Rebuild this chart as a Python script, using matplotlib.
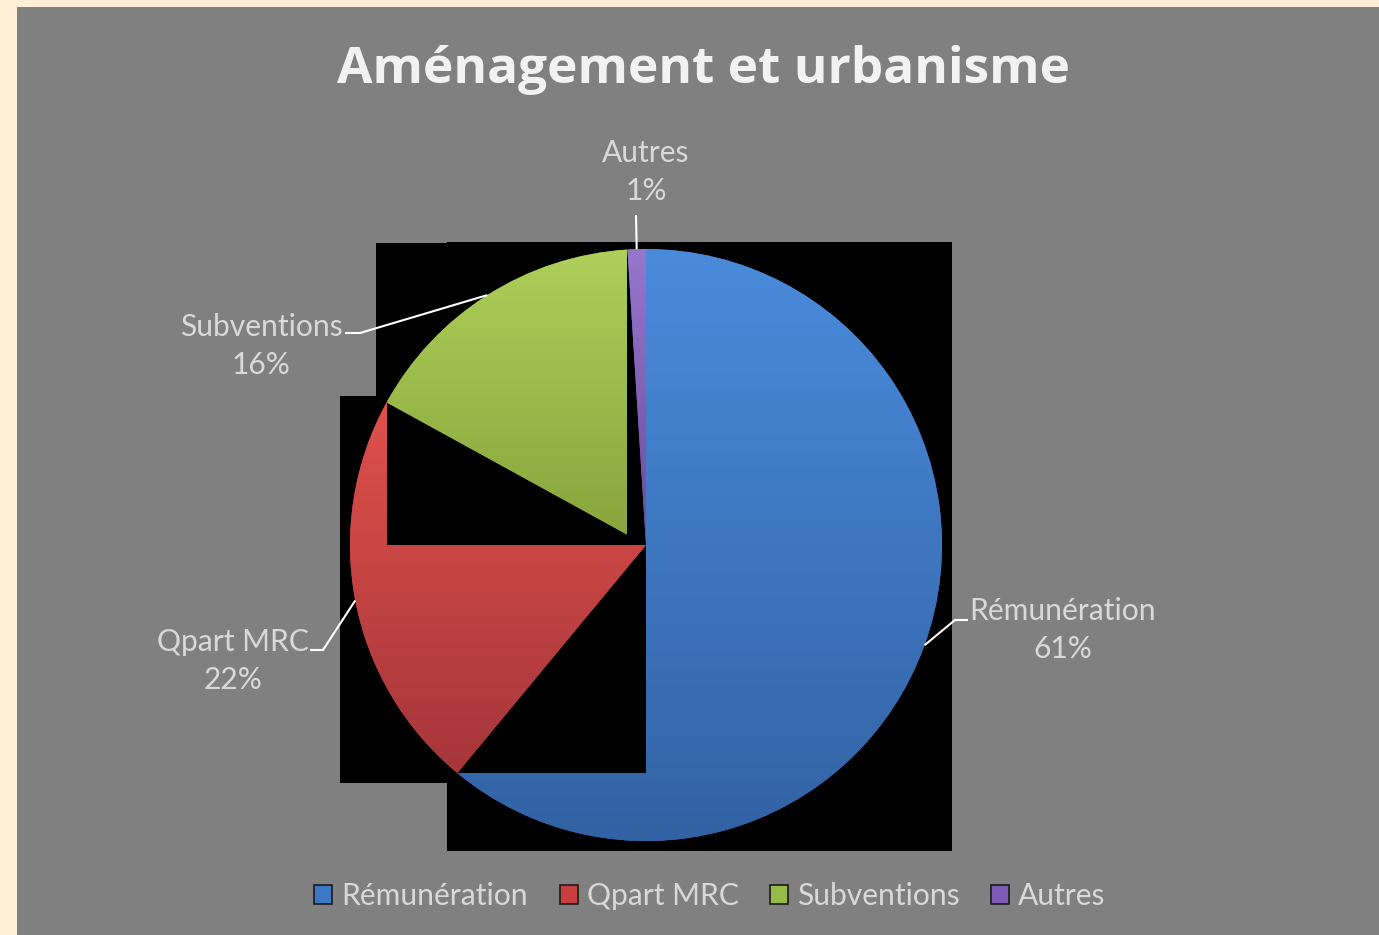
import numpy as np
import matplotlib
matplotlib.use('Agg')
import matplotlib.pyplot as plt
from matplotlib.patches import Rectangle, Patch
from matplotlib.colors import LinearSegmentedColormap

# ---- data ----
categories = ['Rémunération', 'Qpart MRC', 'Subventions', 'Autres']
values = [61, 22, 16, 1]
pct_labels = ['61%', '22%', '16%', '1%']
title = 'Aménagement et urbanisme'

# ---- style ----
light = ['#4A8BDB', '#E0504B', '#AECF5A', '#9677CC']
dark = ['#3262A4', '#A5363A', '#86A43C', '#6A4B9C']
legend_col = ['#3C78C4', '#C8403D', '#98BA48', '#7C5CB4']
txt_col = '#D9D9D9'
FONT = ['Lato', 'DejaVu Sans']
FS = 21.6

W, H = 1379, 935
R = 296.0           # pie radius in px
CX, CY = 646, 545   # pie centre in px


def px(x, y):
    return ((x - CX) / R, (CY - y) / R)


fig = plt.figure(figsize=(W / 100, H / 100), dpi=100)
fig.patch.set_facecolor('#FFEFD6')

ax = fig.add_axes([17 / W, 0, (W - 17) / W, (H - 7) / H])

wedges, _ = ax.pie(values, startangle=90, counterclock=False, radius=1,
                   center=(0, 0), colors=legend_col,
                   wedgeprops=dict(linewidth=0))

pad = 0.035
grad = np.linspace(0, 1, 256).reshape(-1, 1)
# shadow boxes (background artefacts)
for i, w in enumerate(wedges):
    bb = w.get_path().get_extents()
    ax.add_patch(Rectangle((bb.x0 - pad, bb.y0 - pad), bb.width + 2 * pad,
                           bb.height + 2 * pad - 0.012, fc='black', ec='none',
                           zorder=1))
for i, w in enumerate(wedges):
    bb = w.get_path().get_extents()
    ax.add_patch(Rectangle((bb.x0, bb.y0), bb.width, bb.height,
                           fc='black', ec='none', zorder=2 + 2 * i))
    w.set_zorder(3 + 2 * i)
    cmap = LinearSegmentedColormap.from_list('g%d' % i, [dark[i], light[i]])
    im = ax.imshow(grad, extent=(bb.x0, bb.x1, bb.y0, bb.y1), origin='lower',
                   cmap=cmap, aspect='auto', zorder=3 + 2 * i,
                   interpolation='bilinear')
    im.set_clip_path(w)

# labels with leader lines
label_pos = [(1063, 630), (233, 661), (261, 346), (646, 172)]
elbows = [[(955, 620), (968, 620)],
          [(323, 650), (310, 650)],
          [(360, 333), (345, 333)],
          [(636, 215)]]
for i, w in enumerate(wedges):
    mid = np.deg2rad((w.theta1 + w.theta2) / 2)
    pts = [(np.cos(mid), np.sin(mid))] + [px(*p) for p in elbows[i]]
    xs, ys = zip(*pts)
    ax.plot(xs, ys, color='white', lw=1.5, zorder=20, solid_capstyle='butt')
    lx, ly = px(*label_pos[i])
    ax.text(lx, ly, f'{categories[i]}\n{pct_labels[i]}', ha='center',
            va='center', color=txt_col, fontsize=FS, family=FONT,
            linespacing=1.42, zorder=21)

ax.set_xlim((17 - CX) / R, (W - CX) / R)
ax.set_ylim((CY - H) / R, (CY - 7) / R)
ax.set_aspect('auto')
ax.set_frame_on(True)
ax.set_facecolor('#808080')
for s in ax.spines.values():
    s.set_visible(False)
ax.set_xticks([])
ax.set_yticks([])

fig.text(703 / W, 1 - 83 / H, title, ha='center', va='baseline',
         fontsize=37, fontweight='bold', color='#F2F2F2',
         family=['Open Sans', 'DejaVu Sans'])

handles = [Patch(facecolor=c, edgecolor='#1A1A1A', linewidth=1.2)
           for c in legend_col]
fig.legend(handles=handles, labels=categories, loc='center',
           bbox_to_anchor=(710 / W, 1 - 896 / H), ncol=4, frameon=False,
           prop=dict(family=FONT, size=FS), handlelength=0.6,
           handleheight=0.6, handletextpad=0.3, columnspacing=1.05,
           labelcolor=txt_col)

fig.savefig('out.png', dpi=100, facecolor=fig.get_facecolor())
